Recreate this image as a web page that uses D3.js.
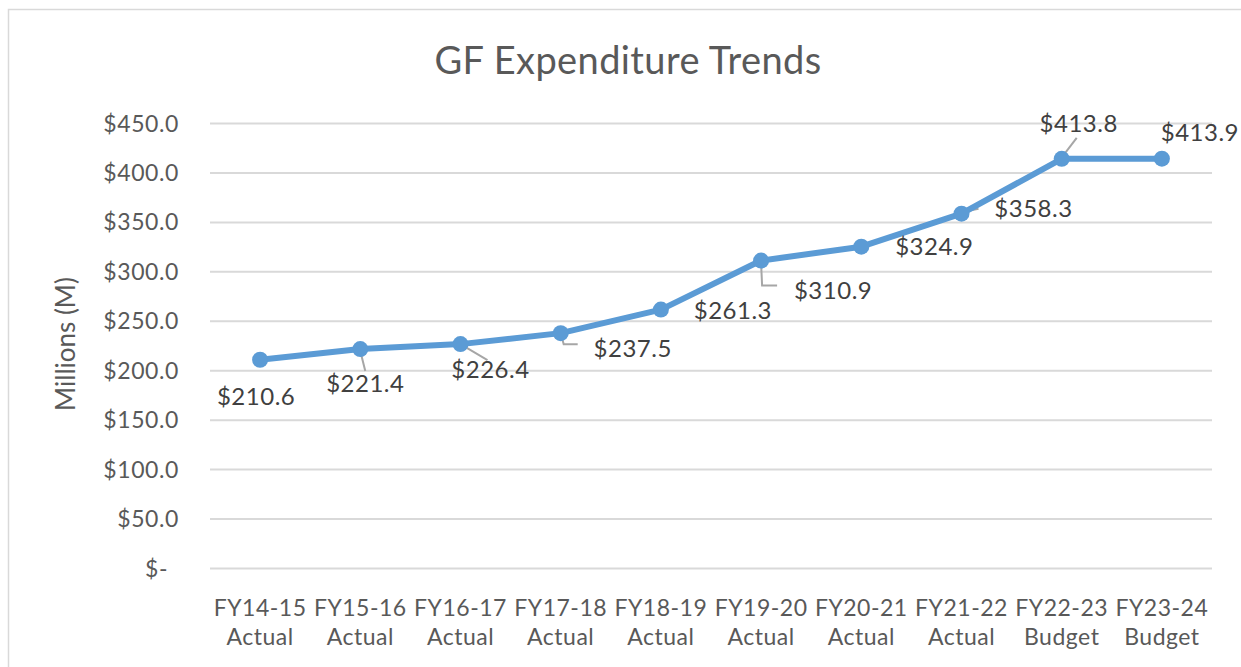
<!DOCTYPE html>
<html>
<head>
<meta charset="utf-8">
<script src="https://cdn.jsdelivr.net/npm/d3@7"></script>
<style>
  body { margin: 0; background: #fff; }
  text { font-family: Lato, "Open Sans", sans-serif; }
</style>
</head>
<body>
<div id="chart"></div>
<script>
var categories = ["FY14-15", "FY15-16", "FY16-17", "FY17-18", "FY18-19",
  "FY19-20", "FY20-21", "FY21-22", "FY22-23", "FY23-24"];
var kinds = ["Actual", "Actual", "Actual", "Actual", "Actual",
  "Actual", "Actual", "Actual", "Budget", "Budget"];
var values = [210.6, 221.4, 226.4, 237.5, 261.3, 310.9, 324.9, 358.3, 413.8, 413.9];
var yTicks = [0, 50, 100, 150, 200, 250, 300, 350, 400, 450];

// where each data label sits relative to its point (label centre), and leader lines
var labelOffsets = [
  [-4, 37], [5, 35], [30, 25], [72, 15], [72, 1],
  [72, 30], [73, 0], [72, -5], [17, -35], [38, -26]
];
var leaders = [
  null,
  [[0, 2], [5, 22]],
  [[0, 0], [27, 16]],
  [[0, 0], [3, 11], [17, 11]],
  null,
  [[0, 3], [1, 25], [16, 25]],
  null,
  [[2, -2], [17, -5]],
  [[2, -4], [15, -21]],
  null
];

var width = 1241, height = 667;
var margin = { left: 210, right: 29, top: 123, bottom: 99 };

var svg = d3.select("#chart").append("svg")
  .attr("width", width)
  .attr("height", height);

// chart frame
svg.append("rect")
  .attr("x", 8.5).attr("y", 9.5)
  .attr("width", width + 20).attr("height", height + 20)
  .attr("fill", "#fff")
  .attr("stroke", "#d9d9d9")
  .attr("stroke-width", 1.5);

var x = d3.scaleBand()
  .domain(categories)
  .range([margin.left, width - margin.right]);

var y = d3.scaleLinear()
  .domain([0, 450])
  .range([height - margin.bottom, margin.top]);

// gridlines
svg.append("g")
  .selectAll("line")
  .data(yTicks)
  .join("line")
  .attr("x1", margin.left)
  .attr("x2", width - margin.right)
  .attr("y1", d => y(d) + 0.5)
  .attr("y2", d => y(d) + 0.5)
  .attr("stroke", "#d9d9d9")
  .attr("stroke-width", 2);

// y axis labels
var yAxis = svg.append("g")
  .attr("transform", "translate(" + (margin.left - 31) + ",0)")
  .call(d3.axisLeft(y).tickValues(yTicks).tickSize(0)
    .tickFormat(d => d === 0 ? "$-" : "$" + d3.format(".1f")(d)));
yAxis.select(".domain").remove();
yAxis.selectAll("text")
  .attr("fill", "#595959")
  .style("font-size", "23px")
  .style("letter-spacing", "0.6px")
  .attr("x", 0)
  .attr("dy", "0.35em");
// the "$-" label sits further left, like the accounting format
yAxis.selectAll(".tick").filter(d => d === 0).select("text")
  .attr("x", -34)
  .attr("text-anchor", "start");

// x axis labels, two lines each
var xAxis = svg.append("g")
  .selectAll("text")
  .data(categories)
  .join("text")
  .attr("x", d => x(d) + x.bandwidth() / 2)
  .attr("y", 616)
  .attr("text-anchor", "middle")
  .attr("fill", "#595959")
  .style("font-size", "23px")
  .style("letter-spacing", "0.5px");
xAxis.append("tspan").text(d => d);
xAxis.append("tspan")
  .attr("x", d => x(d) + x.bandwidth() / 2)
  .attr("dy", 29)
  .text((d, i) => kinds[i]);

// title
svg.append("text")
  .attr("x", 628)
  .attr("y", 74)
  .attr("text-anchor", "middle")
  .attr("fill", "#595959")
  .style("font-size", "38px")
  .style("letter-spacing", "0.4px")
  .text("GF Expenditure Trends");

// y axis title
svg.append("text")
  .attr("transform", "translate(66,344) rotate(-90)")
  .attr("dy", "0.35em")
  .attr("text-anchor", "middle")
  .attr("fill", "#595959")
  .style("font-size", "26px")
  .text("Millions (M)");

var pts = values.map((v, i) => [x(categories[i]) + x.bandwidth() / 2, y(v)]);

// leader lines
svg.append("g")
  .selectAll("path")
  .data(leaders.map((l, i) => l ? l.map(p => [pts[i][0] + p[0], pts[i][1] + p[1]]) : null).filter(l => l))
  .join("path")
  .attr("d", d3.line())
  .attr("fill", "none")
  .attr("stroke", "#a6a6a6")
  .attr("stroke-width", 2);

// line
svg.append("path")
  .datum(pts)
  .attr("d", d3.line())
  .attr("fill", "none")
  .attr("stroke", "#5b9bd5")
  .attr("stroke-width", 6)
  .attr("stroke-linejoin", "round");

svg.append("g")
  .selectAll("circle")
  .data(pts)
  .join("circle")
  .attr("cx", d => d[0])
  .attr("cy", d => d[1])
  .attr("r", 8)
  .attr("fill", "#5b9bd5");

// data labels
svg.append("g")
  .selectAll("text")
  .data(values)
  .join("text")
  .attr("x", (d, i) => pts[i][0] + labelOffsets[i][0])
  .attr("y", (d, i) => pts[i][1] + labelOffsets[i][1])
  .attr("dy", "0.35em")
  .attr("text-anchor", "middle")
  .attr("fill", "#404040")
  .style("font-size", "24px")
  .style("letter-spacing", "0.5px")
  .text(d => "$" + d3.format(".1f")(d));
</script>
</body>
</html>
